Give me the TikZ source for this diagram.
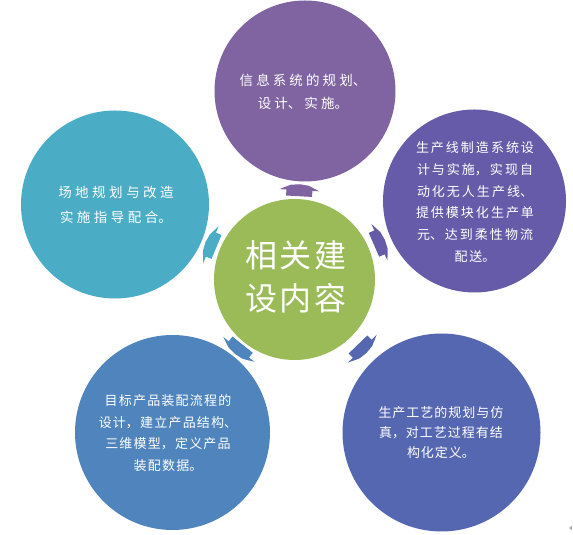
\documentclass[tikz,border=0pt]{standalone}
\usepackage{fontspec}
\newfontfamily\cjk{Noto Sans CJK SC}
\usetikzlibrary{calc}
\XeTeXlinebreaklocale "zh"
\definecolor{cTop}{HTML}{8064A2}
\definecolor{cRU}{HTML}{665BA8}
\definecolor{cRL}{HTML}{5667B1}
\definecolor{cLL}{HTML}{4F84BD}
\definecolor{cLU}{HTML}{4BACC6}
\definecolor{cMid}{HTML}{9BBB59}
\tikzset{
  bub/.style={circle, draw=none, inner sep=0pt, minimum size=#1},
  txt/.style={text=white, align=center, inner sep=0pt, text width=190pt},
  cjkfont/.style n args={3}{font={\cjk\fontsize{#1}{#2}\selectfont\XeTeXlinebreakskip=#3\relax}},
  blockarrow/.pic={\fill (-6,-13) -- (0,-13) -- (0,-20) -- (5,-9) -- (6,0) -- (5,9) -- (0,20) -- (0,13) -- (-6,13) -- cycle;}
}
\begin{document}
\begin{tikzpicture}[x=1pt,y=1pt]
\useasboundingbox (0,0) rectangle (573,535);
% circles
\node[bub=181pt, fill=cTop] (t)  at (305,444)   {};
\node[bub=183pt, fill=cRU]  (ru) at (474.5,334) {};
\node[bub=198pt, fill=cRL]  (rl) at (441.5,102.5) {};
\node[bub=195pt, fill=cLL]  (ll) at (172.5,102.5) {};
\node[bub=188pt, fill=cLU]  (lu) at (115,330.5) {};
\node[bub=161pt, fill=cMid] (c)  at (294.5,255.5) {};
% texts
\node[txt, cjkfont={13.5}{23}{3.1pt}] (tT) at (303,443) {信息系统的规划、\\设计、\hspace{3pt}实施。};
\node[txt, cjkfont={13}{21.7}{2pt}] (ruT) at (475,333) {生产线制造系统设\\计与实施，实现自\\动化无人生产线、\\提供模块化生产单\\元、达到柔性物流\\配送。};
\node[txt, cjkfont={13.5}{25}{3.5pt}] (luT) at (116,330) {场地规划与改造\\实施指导配合。};
\node[txt, cjkfont={13}{21.5}{1.2pt}] (llT) at (168,102) {目标产品装配流程的\\设计，建立产品结构、\\三维模型，定义产品\\装配数据。};
\node[txt, cjkfont={13}{20}{1pt}] (rlT) at (441,102) {生产工艺的规划与仿\\真，对工艺过程有结\\构化定义。};
\node[txt, cjkfont={32}{43}{3pt}] (cT) at (296,258) {相关建\\设内容};
% arrows
\pic[fill=cTop, rotate=86.8]  at ($(c.86.8)!0.5!(t.266.8)$)   {blockarrow};
\pic[fill=cRU,  rotate=23.6]  at ($(c.23.6)!0.5!(ru.203.6)$)  {blockarrow};
\pic[fill=cRL,  rotate=-46.1] at ($(c.-46.1)!0.5!(rl.133.9)$) {blockarrow};
\pic[fill=cLL,  rotate=231.4] at ($(c.231.4)!0.5!(ll.51.4)$)  {blockarrow};
\pic[fill=cLU,  rotate=157.3] at ($(c.157.3)!0.5!(lu.337.3)$) {blockarrow};
% small mark at corner
\fill[gray!60] (569,7) -- (572,9.5) -- (572,4.5) -- cycle;
\end{tikzpicture}
\end{document}
